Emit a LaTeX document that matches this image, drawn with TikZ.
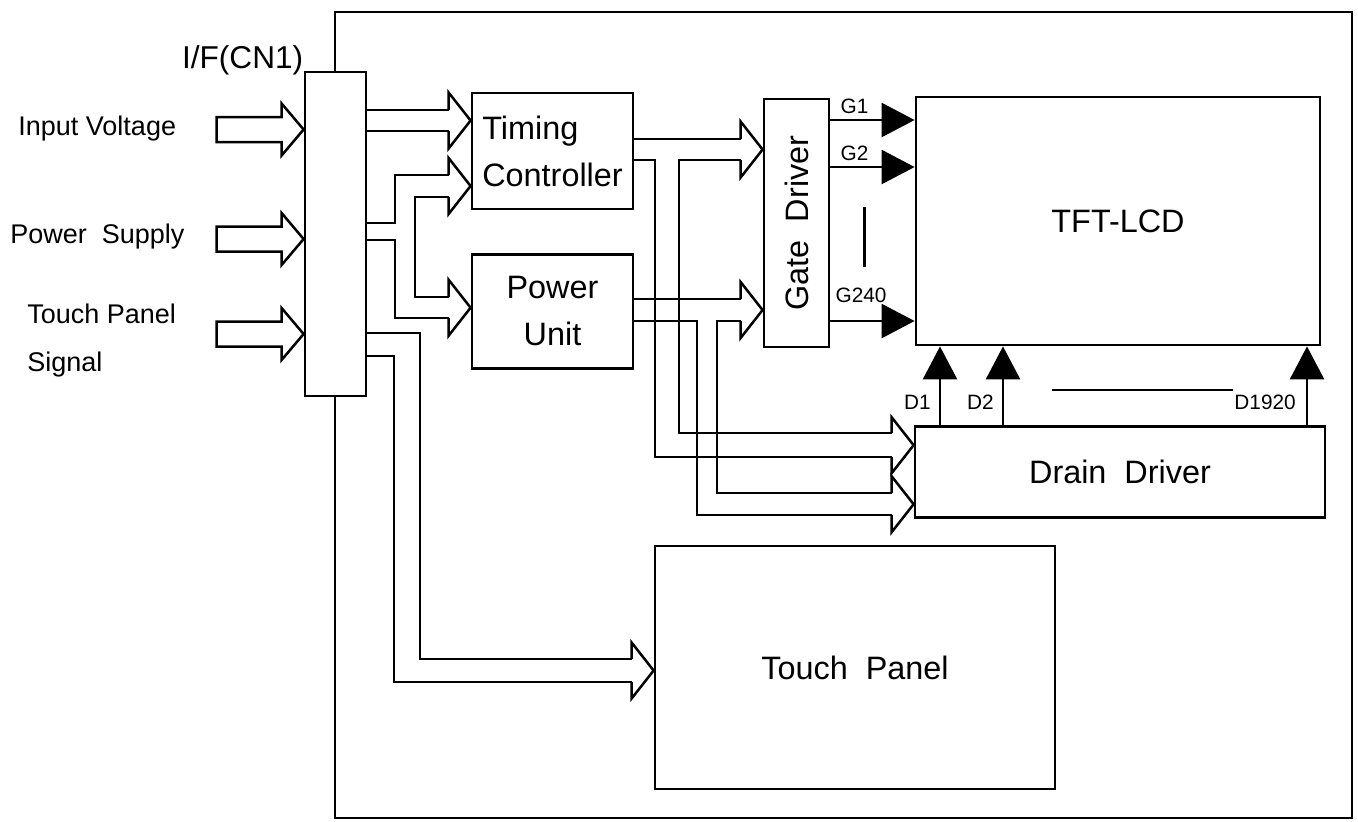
\documentclass[tikz,border=0pt]{standalone}
\usepackage{fontspec}
\setmainfont{Liberation Sans}
\usepackage{graphicx}
\usetikzlibrary{arrows.meta,positioning}

\begin{document}
\begin{tikzpicture}[
        x=0.5pt, y=-0.5pt,
        % box styles
        box/.style={rectangle, draw=black, line width=1.4pt, inner sep=0pt, font=\fontsize{16.2}{23.5}\selectfont},
        ifbox/.style={box, fill=white},
        % connector styles
        busline/.style={draw=black, line width=1.25pt, line join=miter},
        sig/.style={draw=black, line width=1.25pt, -{Triangle[length=16.5pt, width=17pt]}},
        % label styles
        title/.style={inner sep=0pt, font=\fontsize{15.8}{23.5}\selectfont},
        lbl/.style={inner sep=0pt, font=\fontsize{13.5}{24}\selectfont},
        siglbl/.style={inner sep=0pt, font=\fontsize{10.4}{12}\selectfont},
        % hollow bus heads (tip at the origin, pointing right)
        pics/bushead/.style={code={
            \draw[busline] (-22,-#1) coordinate (-u) -- (-22,-28) -- (0,0) -- (-22,28) -- (-22,#1) coordinate (-l);
        }},
        pics/inarrow/.style={code={
            \draw[busline] (-87,-12.5) -- (-22,-12.5) -- (-22,-26) -- (0,0) -- (-22,26) -- (-22,12.5) -- (-87,12.5) -- cycle;
        }}
    ]
    \useasboundingbox (0,0) rectangle (1358,821);

    % Outer frame
    \node[box, minimum width=508.5pt, minimum height=403pt] (frame) at (843.5,415) {};

    % Interface connector
    \node[ifbox, minimum width=30.5pt, minimum height=162pt] (ifc) at (335.5,234) {};
    \node[title, anchor=base east] (ifclbl) at ([shift={(0,-2)}]ifc.north west) {I/F(CN1)};

    % Blocks
    \node[box, minimum width=80.5pt, minimum height=58pt, align=left] (timing) at (552.5,151) {Timing\\Controller};
    \node[box, minimum width=80.5pt, minimum height=57pt, align=center, below=21.2pt of timing] (power) {Power\\Unit};
    \node[box, minimum width=32.5pt, minimum height=124pt] (gate) at (796.5,223) {\rotatebox{90}{Gate\ \ Driver}};
    \node[box, minimum width=202pt, minimum height=124pt] (tft) at (1118,221) {TFT-LCD};
    \node[box, minimum width=205pt, minimum height=45.5pt, below=39.2pt of tft, xshift=1pt] (drain) {Drain\ \ Driver};
    \node[box, minimum width=200pt, minimum height=121.5pt] (touch) at (855,667.5) {Touch\ \ Panel};

    % Inputs
    \node[lbl, anchor=base west] (vin) at (18,135) {Input Voltage};
    \node[lbl, anchor=base west] (psu) at (10,243) {Power\ \ Supply};
    \node[lbl, anchor=north west, align=left] (tps) at (27,304) {Touch Panel\\Signal};
    \foreach \dy in {-104.5,5,100}
        \pic at ([shift={(0,\dy)}]ifc.west) {inarrow};

    % ==========================================
    % Buses from I/F
    % ==========================================
    \pic (tA) at ([shift={(0,-30.5)}]timing.west) {bushead=10.5};
    \draw[busline] (ifc.east |- tA-u) -- (tA-u);
    \draw[busline] (ifc.east |- tA-l) -- (tA-l);

    % T-bus to timing controller and power unit
    \pic (tB) at ([shift={(0,35)}]timing.west) {bushead=11};
    \pic (tC) at ([shift={(0,-3.5)}]power.west) {bushead=10.5};
    \coordinate (tbus) at (395,223);
    \coordinate (tbusb) at (395,240);
    \coordinate (tbusi) at (415,250);
    \draw[busline] (ifc.east |- tbus) -- (tbus) |- (tB-u);
    \draw[busline] (ifc.east |- tbusb) -- (tbusb) |- (tC-l);
    \draw[busline] (tB-l) -| (tbusi) |- (tC-u);

    % bus to touch panel
    \pic (tD) at ([shift={(0,3)}]touch.west) {bushead=11.5};
    \coordinate (pbus) at (394,356);
    \coordinate (pbusi) at (420,333);
    \draw[busline] (ifc.east |- pbus) -- (pbus) |- (tD-l);
    \draw[busline] (ifc.east |- pbusi) -- (pbusi) |- (tD-u);

    % ==========================================
    % Buses to gate driver and drain driver
    % ==========================================
    \pic (tE) at ([shift={(0,-73.5)}]gate.west) {bushead=10.5};
    \pic (tF) at ([shift={(0,-26.5)}]drain.west) {bushead=12};
    \coordinate (tbus2) at (655,160);
    \coordinate (tbus2i) at (679,300);
    \draw[busline] (timing.east |- tE-u) -- (tE-u);
    \draw[busline] (timing.east |- tE-l) -- (tbus2) |- (tF-l);
    \draw[busline] (tE-l) -| (tbus2i) |- (tF-u);

    \pic (tG) at ([shift={(0,87)}]gate.west) {bushead=11};
    \pic (tH) at ([shift={(0,32.5)}]drain.west) {bushead=11};
    \coordinate (pbus2) at (697,321);
    \coordinate (pbus2i) at (717,400);
    \draw[busline] (power.east |- tG-u) -- (tG-u);
    \draw[busline] (power.east |- tG-l) -- (pbus2) |- (tH-l);
    \draw[busline] (tG-l) -| (pbus2i) |- (tH-u);

    % Gate lines
    \foreach \dy/\name/\dx/\up in {-103/G1/9/5, -56/G2/9/5, 98/G240/4/17}
        \draw[sig] ([shift={(0,\dy)}]gate.east) coordinate (g) -- (tft.west |- g)
            node[siglbl, pos=0, anchor=south west, shift={(\dx,-\up)}] {\name};
    \draw[busline] ([shift={(34,-16)}]gate.east) -- ([shift={(34,44)}]gate.east);

    % Drain lines
    \foreach \dx/\name/\lx in {-180/D1/8, -117/D2/8, 187/D1920/10}
        \draw[sig] ([shift={(\dx,0)}]drain.north) coordinate (d) -- (tft.south -| d)
            node[siglbl, pos=0, anchor=south east, shift={(-\lx,-14)}] {\name};
    \draw[busline] ([shift={(-68,-35)}]drain.north) -- ([shift={(113,-35)}]drain.north);

\end{tikzpicture}
\end{document}
